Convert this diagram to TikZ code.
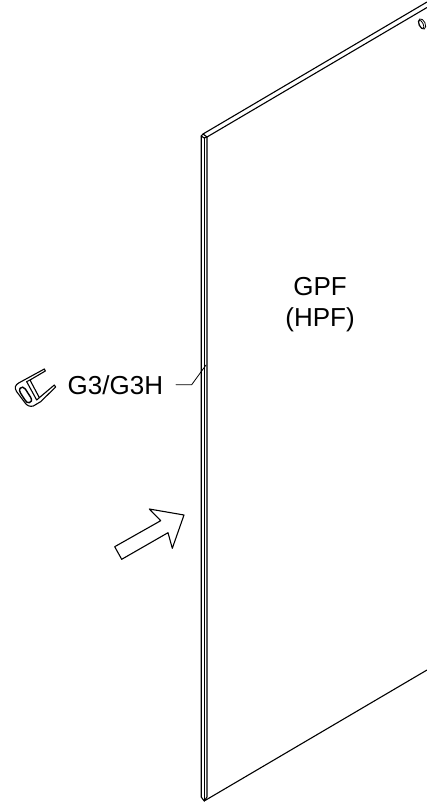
\documentclass[tikz,border=0pt]{standalone}
\usepackage{fontspec}
\setmainfont{Liberation Sans}
\tikzset{
  edge/.style={draw=black,line width=1.1pt,line join=round,line cap=round},
  thin edge/.style={draw=black,line width=0.8pt,line join=round,line cap=round},
  lbl/.style={font=\fontsize{26pt}{31pt}\selectfont,text=black,inner sep=0pt,align=center}
}
\begin{document}
\begin{tikzpicture}[x=1pt,y=-1pt]
\useasboundingbox (0,0) rectangle (427,803);
\fill[white] (0,0) rectangle (427,803);
% panel edge
\draw[edge] (201.2,136) -- (201.2,797) -- (204.2,801) -- (207,797) -- (207,137) -- (203,134) -- (201.2,136);
\draw[edge] (204.2,138) -- (204.2,801);
\draw[edge] (201.2,136) -- (204.2,138) -- (207,137);
% top edge
\draw[edge] (203,134) -- (427,2);
\draw[edge] (207,137) -- (427,7.5);
% bottom edge
\draw[edge] (205,800.5) -- (427,670);
% hole
\draw[thin edge,rotate around={-65:(422,24)}] (422,24) ellipse [x radius=5.5,y radius=3.2];
\draw[thin edge,rotate around={-65:(421.3,24.4)}] (421.3,24.4) ellipse [x radius=4.5,y radius=1.9];
% labels
\node[lbl] (gpf) at (320,304.5) {GPF\\(HPF)};
\node[lbl,anchor=west] (g3) at (67.5,385.5) {G3/G3H};
% leader
\coordinate (l0) at (176,384.7);
\coordinate (l1) at (191.7,384.7);
\coordinate (l2) at (206,365);
\draw[thin edge] (l0) -- (l1) -- (l2);
% arrow
\draw[edge] (149.3,509) -- (184,515) -- (172.3,548.3) -- (168,532.7) -- (121.7,559.3) -- (114.7,546.7) -- (160.7,520.7) -- cycle;
% clip
\begin{scope}[shift={(10,365)},x=0.3333pt,y=-0.3333pt]
\draw[line width=1.1pt,line join=round] (48,42) -- (103,12) -- (106,18) -- (60,45) -- (88,98) -- (133,60) -- (137,66) -- (92,110) -- (70,123)
  .. controls (60,126) and (50,122) .. (44,112) -- (20,80) .. controls (12,68) and (16,60) .. (26,54) -- cycle;
\draw[line width=1.1pt,line join=round] (60,45) -- (50,50) -- (80,105) -- (88,98);
\draw[line width=1.4pt] (30,70) .. controls (34,64) and (42,66) .. (46,72) -- (62,97) .. controls (67,106) and (64,112) .. (58,113) .. controls (52,114) and (48,110) .. (45,105) -- (32,85) .. controls (28,79) and (28,74) .. (30,70) -- cycle;
\end{scope}
\end{tikzpicture}
\end{document}
